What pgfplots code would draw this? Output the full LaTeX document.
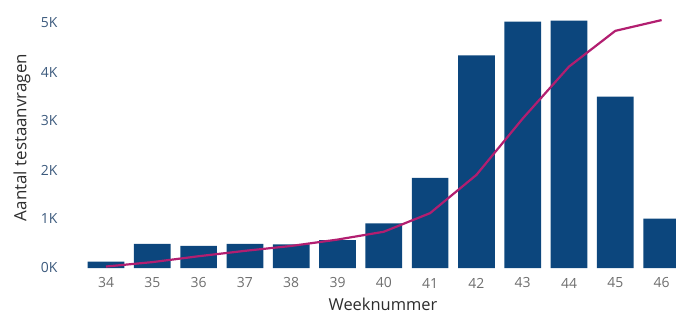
\documentclass[border=0pt]{standalone}
\usepackage{pgfplots}
\pgfplotsset{compat=1.18}
\usepackage{fontspec}
\setmainfont{Open Sans}
\definecolor{barblue}{RGB}{12,70,125}
\definecolor{linepink}{RGB}{178,30,112}
\definecolor{ytick}{RGB}{60,90,125}
\definecolor{xtick}{RGB}{110,110,110}
\definecolor{lab}{RGB}{45,45,45}
\begin{document}
\begin{tikzpicture}
\begin{axis}[
  x=46.3bp, y=0.049bp,
  xmin=33.5, xmax=46.31, ymin=0, ymax=5160,
  axis line style={draw=none},
  major tick length=0pt,
  /pgf/number format/assume math mode=true,
  xtick={34,...,46},
  ytick={0,1000,2000,3000,4000,5000},
  yticklabels={0K,1K,2K,3K,4K,5K},
  yticklabel style={font=\fontsize{14}{14}\selectfont, text=ytick, anchor=east, xshift=-22bp},
  xticklabel style={font=\fontsize{14}{14}\selectfont, text=xtick, anchor=center, yshift=-15bp},
  xlabel={Weeknummer},
  ylabel={Aantal testaanvragen},
  xlabel style={font=\fontsize{16.5}{16.5}\selectfont, text=lab, at={(axis description cs:0.506,0)}, anchor=center, yshift=-36bp},
  ylabel style={font=\fontsize{17}{17}\selectfont, text=lab, at={(axis description cs:-0.1028,0.516)}, anchor=center},
  clip=true,
]
\addplot[ybar, bar width=36.7bp, fill=barblue, draw=none] coordinates {
(34,130) (35,490) (36,450) (37,490) (38,480) (39,570) (40,910) (41,1840)
(42,4340) (43,5030) (44,5050) (45,3500) (46,1010)};
\addplot[linepink, line width=2.2bp, mark=none] coordinates {
(34,30) (35,120) (36,240) (37,350) (38,450) (39,580) (40,740) (41,1120)
(42,1900) (43,3050) (44,4110) (45,4840) (46,5060)};
\coordinate (O) at (axis cs:33.5,0);
\end{axis}
\pgfresetboundingbox
\path[use as bounding box] ([shift={(-82.85bp,-50bp)}]O) rectangle ([shift={(593.15bp,268bp)}]O);
\end{tikzpicture}
\end{document}
